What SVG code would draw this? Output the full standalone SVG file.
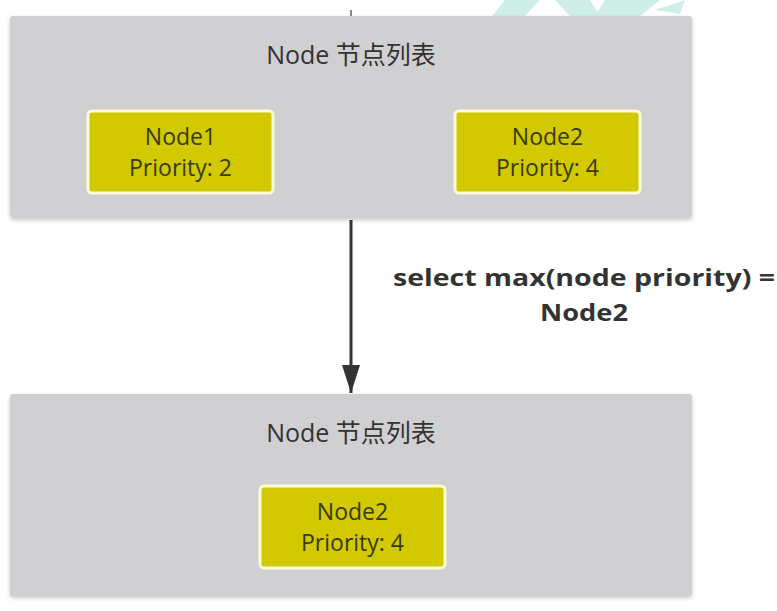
<svg xmlns="http://www.w3.org/2000/svg" width="777" height="611" viewBox="0 0 777 611">
<defs>
<filter id="sh" x="-5%" y="-5%" width="110%" height="115%">
<feGaussianBlur in="SourceAlpha" stdDeviation="2"/>
<feOffset dx="0" dy="2"/>
<feComponentTransfer><feFuncA type="linear" slope="0.22"/></feComponentTransfer>
<feMerge><feMergeNode/><feMergeNode in="SourceGraphic"/></feMerge>
</filter>
<marker id="arr" viewBox="0 0 28 18" refX="28" refY="9" markerWidth="28" markerHeight="18" markerUnits="userSpaceOnUse" orient="auto">
<path d="M0,0 L28,9 L0,18 Z" fill="#333"/>
</marker>
</defs>
<style>
.group{fill:#d0cfd1;}
.item{fill:#d2c900;stroke:#fdfbd8;stroke-width:3;}
.title{font-family:"Open Sans","Noto Sans CJK SC",sans-serif;font-size:25px;fill:#333;text-anchor:middle;}
.lbl{font-family:"Open Sans",sans-serif;font-size:23px;fill:#3a3a10;text-anchor:middle;}
.edge{font-family:"Open Sans",sans-serif;font-size:24px;font-weight:bold;fill:#333;text-anchor:middle;}
</style>
<rect width="777" height="611" fill="#ffffff"/>
<g id="watermark" fill="#cfeee8">
<polygon points="505,0 540,0 525,16 492,16"/>
<polygon points="555,0 590,0 600,16 570,16"/>
<polygon points="605,0 660,0 640,16 595,16"/>
<polygon points="655,10 685,0 680,14"/>
</g>
<g id="top-list">
<rect class="group" x="10" y="16" width="682" height="202" rx="3" filter="url(#sh)"/>
<text class="title" x="351" y="64">Node 节点列表</text>
</g>
<g id="top-node1">
<rect class="item" x="88" y="111" width="185" height="82" rx="4"/>
<text class="lbl" x="180.5" y="145">Node1</text>
<text class="lbl" x="180.5" y="176">Priority: 2</text>
</g>
<g id="top-node2">
<rect class="item" x="455" y="111" width="185" height="82" rx="4"/>
<text class="lbl" x="547.5" y="145">Node2</text>
<text class="lbl" x="547.5" y="176">Priority: 4</text>
</g>
<g id="bottom-list">
<rect class="group" x="10" y="394" width="682" height="202" rx="3" filter="url(#sh)"/>
<text class="title" x="351" y="442">Node 节点列表</text>
</g>
<g id="bottom-node2">
<rect class="item" x="260" y="486" width="185" height="82" rx="4"/>
<text class="lbl" x="352.5" y="520">Node2</text>
<text class="lbl" x="352.5" y="551">Priority: 4</text>
</g>
<g id="connectors">
<line x1="351" y1="10" x2="351" y2="16" stroke="#888" stroke-width="2"/>
<line x1="351" y1="220" x2="351" y2="393" stroke="#333" stroke-width="3" marker-end="url(#arr)"/>
<text class="edge" x="584" y="286" textLength="382" lengthAdjust="spacingAndGlyphs">select max(node priority) =</text>
<text class="edge" x="584" y="321" textLength="88" lengthAdjust="spacingAndGlyphs">Node2</text>
</g>
</svg>
